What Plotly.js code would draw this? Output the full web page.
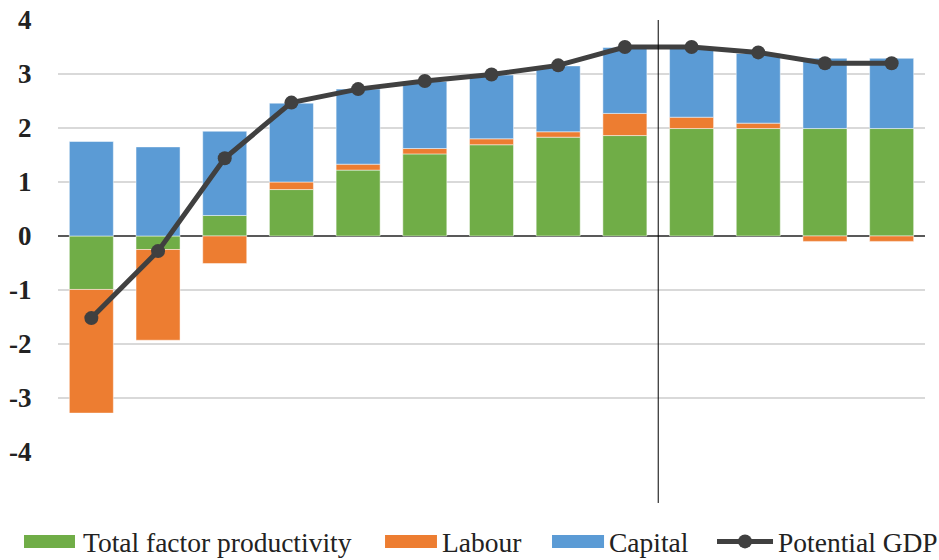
<!DOCTYPE html>
<html>
<head>
<meta charset="utf-8">
<script src="https://cdn.plot.ly/plotly-3.0.1.min.js"></script>
<style>
html,body{margin:0;padding:0;background:#fff;}
#chart{width:939px;height:560px;}
</style>
</head>
<body>
<div id="chart"></div>
<script>
const years = ['2010','2011','2012','2013','2014','2015','2016','2017','2018','2019','2020','2021','2022'];
const tfp = [-0.99, -0.25, 0.38, 0.86, 1.22, 1.52, 1.69, 1.83, 1.86, 1.99, 1.99, 1.99, 1.99];
const labour = [-2.29, -1.68, -0.51, 0.14, 0.11, 0.10, 0.11, 0.10, 0.41, 0.21, 0.10, -0.10, -0.10];
const capital = [1.75, 1.65, 1.56, 1.46, 1.39, 1.24, 1.18, 1.22, 1.22, 1.29, 1.29, 1.30, 1.30];
const potentialGDP = [-1.52, -0.28, 1.44, 2.47, 2.72, 2.87, 2.99, 3.16, 3.50, 3.50, 3.40, 3.20, 3.20];
const seriesNames = ['Total factor productivity', 'Labour', 'Capital', 'Potential GDP'];
const seriesColors = ['#70ad47', '#ed7d31', '#5b9bd5', '#404040'];
const yTicks = [-4, -3, -2, -1, 0, 1, 2, 3, 4];

const FONT = 'Times New Roman';
const TXT = '#222';
const barLine = {color: 'rgba(255,255,255,0.6)', width: 0.8};

const traces = [
  {type: 'bar', name: seriesNames[0], x: years, y: tfp, marker: {color: seriesColors[0], line: barLine}},
  {type: 'bar', name: seriesNames[1], x: years, y: labour, marker: {color: seriesColors[1], line: barLine}},
  {type: 'bar', name: seriesNames[2], x: years, y: capital, marker: {color: seriesColors[2], line: barLine}},
  {type: 'scatter', mode: 'lines+markers', name: seriesNames[3], x: years, y: potentialGDP,
   line: {color: seriesColors[3], width: 5}, marker: {color: seriesColors[3], size: 14}}
];

// Tick labels drawn as annotations placed on the axes' own scales
const annotations = [];
years.forEach(function (yr) {
  annotations.push({xref: 'x', yref: 'paper', x: yr, y: -0.083, yanchor: 'middle', xanchor: 'center',
    text: yr, showarrow: false, font: {family: FONT, size: 27.5, color: TXT}});
});
yTicks.forEach(function (v) {
  annotations.push({xref: 'paper', yref: 'y', x: -0.028, y: v, xanchor: 'right', yanchor: 'middle',
    text: String(v), showarrow: false, font: {family: FONT, size: 27, color: TXT, weight: 'bold'}});
});

// Legend (symbols + labels) in paper coordinates
const legendSlots = [
  {sx0: -0.0392, sx1: 0.0196, tx: 0.0265},
  {sx0: 0.3772, sx1: 0.4371, tx: 0.4406},
  {sx0: 0.5698, sx1: 0.6298, tx: 0.6332},
  {sx0: 0.7601, sx1: 0.8247, tx: 0.8281}
];
const shapes = [{type: 'line', xref: 'x', yref: 'paper', x0: 8.5, x1: 8.5, y0: -0.118, y1: 1,
                 line: {color: '#000', width: 1}}];
seriesNames.forEach(function (nm, i) {
  const s = legendSlots[i];
  if (i < 3) {
    shapes.push({type: 'rect', xref: 'paper', yref: 'paper', x0: s.sx0, x1: s.sx1, y0: -0.222, y1: -0.192,
                 fillcolor: seriesColors[i], line: {width: 0}});
  } else {
    const cx = (s.sx0 + s.sx1) / 2;
    shapes.push({type: 'line', xref: 'paper', yref: 'paper', x0: s.sx0, x1: s.sx1, y0: -0.207, y1: -0.207,
                 line: {color: seriesColors[i], width: 5}});
    shapes.push({type: 'circle', xref: 'paper', yref: 'paper', x0: cx - 0.0081, x1: cx + 0.0081,
                 y0: -0.207 - 0.0162, y1: -0.207 + 0.0162, fillcolor: seriesColors[i], line: {width: 0}});
  }
  annotations.push({xref: 'paper', yref: 'paper', x: s.tx, y: -0.2106, xanchor: 'left', yanchor: 'middle',
    text: nm, showarrow: false, font: {family: FONT, size: 27.5, color: TXT}});
});

const layout = {
  width: 939, height: 560,
  margin: {l: 58, r: 14, t: 20, b: 108, autoexpand: false},
  paper_bgcolor: '#fff', plot_bgcolor: '#fff',
  barmode: 'relative', bargap: 0.34,
  font: {family: FONT, size: 26, color: TXT},
  showlegend: false,
  xaxis: {type: 'category', range: [-0.5, 12.5], automargin: false, showgrid: false, zeroline: false,
          showline: false, ticks: '', showticklabels: false},
  yaxis: {range: [-4, 4], automargin: false, tickvals: yTicks, showticklabels: false,
          showgrid: true, gridcolor: '#d9d9d9', gridwidth: 1.5,
          zeroline: true, zerolinecolor: '#595959', zerolinewidth: 1.5,
          showline: false, ticks: ''},
  shapes: shapes,
  annotations: annotations
};

Plotly.newPlot('chart', traces, layout, {displayModeBar: false, staticPlot: true});
</script>
</body>
</html>
